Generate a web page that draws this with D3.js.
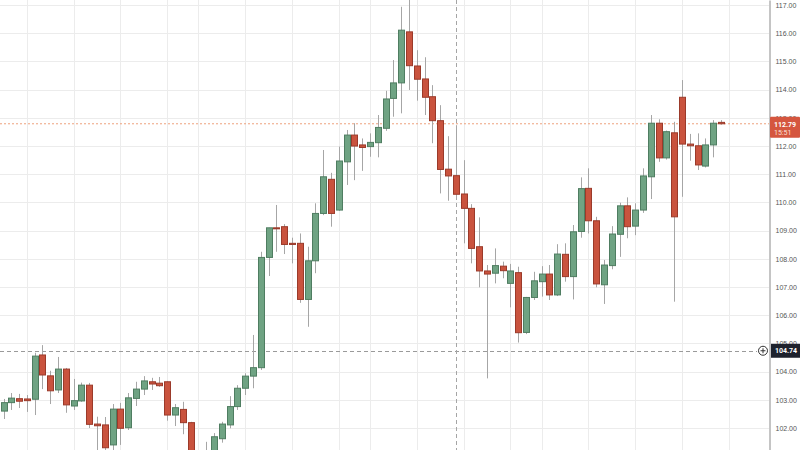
<!DOCTYPE html>
<html>
<head>
<meta charset="utf-8">
<script src="https://cdn.jsdelivr.net/npm/d3@7"></script>
<style>
  body { margin: 0; background: #fff; }
  svg { display: block; font-family: Roboto, "Liberation Sans", sans-serif; }
</style>
</head>
<body>
<div id="chart"></div>
<script>
// candle values (one entry per bar, left to right)
var opens = [102.60,102.90,103.04,103.03,103.02,104.59,103.85,103.35,104.09,102.78,
  102.96,103.52,102.14,102.11,101.40,102.67,102.01,103.05,103.38,103.64,
  103.59,103.64,102.46,102.66,102.19,101.00,100.90,101.00,101.62,102.11,
  102.76,103.41,103.84,104.14,108.05,109.10,109.14,108.55,108.55,106.56,
  107.93,109.61,110.82,109.73,111.44,112.39,112.04,111.98,112.12,112.63,
  113.69,114.24,116.05,114.84,114.38,113.75,112.90,111.18,110.95,110.30,
  109.79,108.43,107.57,107.49,107.74,107.13,107.51,105.39,106.63,107.19,
  107.46,106.72,108.16,107.37,108.97,110.50,109.35,107.08,107.76,108.87,
  109.88,109.16,109.73,110.91,112.81,111.58,112.47,113.73,112.07,112.01,
  111.29,112.04,112.84];
var highs = [103.03,103.24,103.21,103.17,104.67,104.94,104.03,104.52,104.13,103.74,
  103.61,103.60,102.40,102.39,102.85,102.89,103.24,103.64,103.84,103.78,
  103.81,103.66,102.85,102.93,102.22,101.15,101.51,101.82,102.22,103.13,
  103.52,103.94,105.30,108.25,109.10,109.91,109.23,108.75,108.90,108.43,
  109.97,111.86,111.05,111.98,112.57,112.81,112.27,112.45,113.10,113.96,
  115.05,116.94,117.35,115.40,115.15,114.16,113.45,112.35,112.74,111.50,
  109.94,109.47,107.78,108.37,107.90,107.82,107.72,106.65,107.54,107.74,
  107.78,108.52,108.55,109.20,110.89,111.21,109.49,107.96,109.16,109.99,
  110.18,109.97,111.21,113.10,112.95,112.55,112.86,114.34,112.43,112.45,
  112.27,112.92,112.92];
var lows = [102.32,102.64,102.71,102.57,102.46,103.38,102.85,103.24,102.54,102.64,
  102.93,102.00,101.00,101.00,101.10,101.40,101.93,102.78,103.17,103.35,
  103.46,102.26,102.07,101.78,100.90,100.60,100.70,100.80,101.48,101.99,
  102.64,103.17,103.41,104.06,107.39,108.25,108.17,107.84,106.44,105.59,
  107.49,109.55,109.14,109.70,110.62,110.79,111.12,111.62,111.60,112.54,
  113.04,113.16,113.99,113.61,113.10,112.10,110.32,110.06,110.16,108.55,
  107.84,106.99,103.76,107.13,107.31,106.28,105.03,105.33,106.54,106.66,
  106.54,106.68,107.19,106.56,108.75,108.90,106.99,106.40,107.63,108.07,
  108.73,108.84,109.63,110.12,111.44,111.52,106.48,110.20,111.48,111.15,
  111.24,111.60,112.76];
var closes = [102.90,103.06,102.95,102.97,104.55,103.88,103.32,104.09,102.82,102.97,
  103.52,102.13,102.08,101.30,102.67,101.99,103.07,103.38,103.67,103.56,
  103.50,102.46,102.72,102.19,101.10,100.80,101.15,101.69,102.14,102.76,
  103.41,103.84,104.14,108.05,109.10,109.07,108.51,108.51,106.56,107.93,
  109.61,110.91,109.61,111.47,112.39,112.00,111.95,112.13,112.66,113.67,
  114.24,116.11,114.85,114.37,113.73,112.90,111.17,110.94,110.29,109.79,
  108.37,107.57,107.46,107.76,107.58,107.57,105.38,106.63,107.22,107.46,
  106.72,108.17,107.37,108.96,110.49,109.35,107.11,107.78,108.88,109.88,
  109.14,109.73,110.94,112.81,111.58,112.51,109.49,112.07,112.01,111.33,
  112.04,112.81,112.79];

var priceTicks = [102,103,104,105,106,107,108,109,110,111,112,113,114,115,116,117];
var timeGridBars = [3,9,15,21,25,31,37,43,47,53,59,65,69,75,81,87,93];
var lastPrice = 112.79;
var lastTime = "15:51";
var crossPrice = 104.74;
var crossBar = 58;

var width = 800, height = 450, axisX = 769;

var svg = d3.select("#chart").append("svg")
  .attr("width", width).attr("height", height);

var x = d3.scaleLinear().domain([0, 92]).range([3.5, 721]);
var y = d3.scaleLinear().domain([101.22, 117.18]).range([height, 0]);

svg.append("defs").append("clipPath").attr("id", "plot")
  .append("rect").attr("width", axisX).attr("height", height);

var g = svg.append("g").attr("clip-path", "url(#plot)");

// grid
g.selectAll(".hgrid").data(priceTicks).enter().append("line")
  .attr("x1", 0).attr("x2", axisX)
  .attr("y1", function(d) { return Math.round(y(d)) + 0.5; })
  .attr("y2", function(d) { return Math.round(y(d)) + 0.5; })
  .attr("stroke", "#ececec");

g.selectAll(".vgrid").data(timeGridBars).enter().append("line")
  .attr("x1", function(d) { return Math.round(x(d)) + 0.5; })
  .attr("x2", function(d) { return Math.round(x(d)) + 0.5; })
  .attr("y1", 0).attr("y2", height)
  .attr("stroke", "#ececec");

// last price line
g.append("line")
  .attr("x1", 0).attr("x2", axisX)
  .attr("y1", y(lastPrice)).attr("y2", y(lastPrice))
  .attr("stroke", "#eea27e").attr("stroke-dasharray", "2,2");

// crosshair
g.append("line")
  .attr("x1", 0).attr("x2", 757)
  .attr("y1", Math.round(y(crossPrice)) + 0.5).attr("y2", Math.round(y(crossPrice)) + 0.5)
  .attr("stroke", "#9a9a9a").attr("stroke-dasharray", "4,3");
g.append("line")
  .attr("x1", Math.round(x(crossBar)) + 0.5).attr("x2", Math.round(x(crossBar)) + 0.5)
  .attr("y1", 0).attr("y2", height)
  .attr("stroke", "#a5a5a5").attr("stroke-dasharray", "4,3");

// candles
var bars = d3.range(opens.length);
function up(i) { return closes[i] >= opens[i]; }

g.selectAll(".wick").data(bars).enter().append("line")
  .attr("x1", function(i) { return Math.round(x(i)) + 0.5; })
  .attr("x2", function(i) { return Math.round(x(i)) + 0.5; })
  .attr("y1", function(i) { return y(highs[i]); })
  .attr("y2", function(i) { return y(lows[i]); })
  .attr("stroke", "#a6a6a6").attr("stroke-width", 1);

g.selectAll(".body").data(bars).enter().append("rect")
  .attr("x", function(i) { return Math.round(x(i)) - 2.5; })
  .attr("width", 6)
  .attr("y", function(i) { return y(Math.max(opens[i], closes[i])); })
  .attr("height", function(i) { return Math.max(1, Math.abs(y(opens[i]) - y(closes[i]))); })
  .attr("fill", function(i) { return up(i) ? "#6fa383" : "#c9533e"; })
  .attr("stroke", function(i) { return up(i) ? "#4f7d61" : "#9b3a2a"; })
  .attr("stroke-width", 1);

// price axis
svg.append("rect").attr("x", axisX).attr("y", 0)
  .attr("width", width - axisX).attr("height", height).attr("fill", "#fff");

var axis = svg.append("g").attr("transform", "translate(" + (axisX + 0.5) + ",0)")
  .call(d3.axisRight(y).tickValues(priceTicks).tickSize(0).tickPadding(6)
    .tickFormat(d3.format(".2f")));
axis.select(".domain").attr("stroke", "#8a8a8a");
axis.selectAll("text").attr("fill", "#555").style("font-size", "7px");

// last price tag
var tagY = y(lastPrice);
svg.append("rect").attr("x", axisX + 1).attr("y", tagY - 7)
  .attr("width", width - axisX - 1).attr("height", 21).attr("rx", 1)
  .attr("fill", "#d5563f");
svg.append("text").attr("x", axisX + 5).attr("y", tagY + 3)
  .attr("fill", "#fff").style("font-size", "7px").style("font-weight", "bold")
  .text(d3.format(".2f")(lastPrice));
svg.append("text").attr("x", axisX + 5).attr("y", tagY + 11)
  .attr("fill", "#fbe0da").style("font-size", "7px")
  .text(lastTime);

// crosshair tag
var cy = y(crossPrice);
svg.append("rect").attr("x", axisX + 2).attr("y", cy - 7)
  .attr("width", width - axisX - 2).attr("height", 14)
  .attr("fill", "#1e222d");
svg.append("text").attr("x", axisX + 6).attr("y", cy + 2.5)
  .attr("fill", "#fff").style("font-size", "7px").style("font-weight", "bold")
  .text(d3.format(".2f")(crossPrice));
svg.append("circle").attr("cx", 763).attr("cy", cy).attr("r", 4.5)
  .attr("fill", "#fff").attr("stroke", "#333").attr("stroke-width", 1);
svg.append("path")
  .attr("d", "M760.5," + cy + "h5M763," + (cy - 2.5) + "v5")
  .attr("stroke", "#333").attr("stroke-width", 1);
</script>
</body>
</html>
